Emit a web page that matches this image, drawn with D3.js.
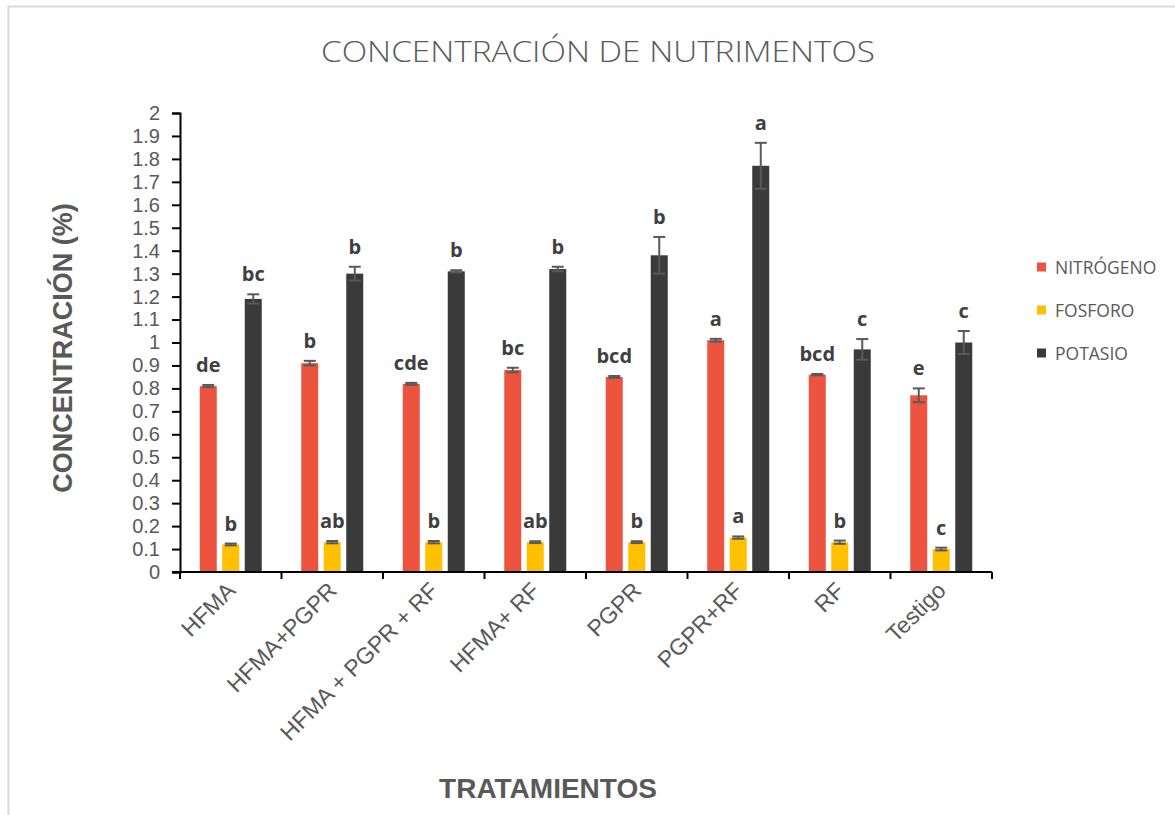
<!DOCTYPE html>
<html>
<head>
<meta charset="utf-8">
<script src="https://cdn.jsdelivr.net/npm/d3@7"></script>
<style>
  html, body { margin: 0; padding: 0; background: #fff; }
  svg { display: block; }
</style>
</head>
<body>
<svg id="chart" width="1175" height="815"></svg>
<script>
// Treatments and nutrient concentrations (%)
const categories = ["HFMA", "HFMA+PGPR", "HFMA + PGPR + RF", "HFMA+ RF", "PGPR", "PGPR+RF", "RF", "Testigo"];
const seriesNames = ["NITRÓGENO", "FOSFORO", "POTASIO"];

const nitrogeno = [0.81, 0.91, 0.82, 0.88, 0.85, 1.01, 0.86, 0.77];
const fosforo   = [0.12, 0.13, 0.13, 0.13, 0.13, 0.15, 0.13, 0.10];
const potasio   = [1.19, 1.30, 1.31, 1.32, 1.38, 1.77, 0.97, 1.00];

// Standard errors
const errNitrogeno = [0.005, 0.01, 0.004, 0.01, 0.004, 0.006, 0.003, 0.03];
const errFosforo   = [0.004, 0.005, 0.005, 0.004, 0.004, 0.005, 0.007, 0.006];
const errPotasio   = [0.02, 0.03, 0.005, 0.01, 0.08, 0.10, 0.045, 0.05];

// Significance letters
const lettersNitrogeno = ["de", "b", "cde", "bc", "bcd", "a", "bcd", "e"];
const lettersFosforo   = ["b", "ab", "b", "ab", "b", "a", "b", "c"];
const lettersPotasio   = ["bc", "b", "b", "b", "b", "a", "c", "c"];

const yTicks = d3.range(0, 21).map(i => i / 10);

const colors = ["#EC5440", "#FFC000", "#3A3A3A"];
const values = [nitrogeno, fosforo, potasio];
const errors = [errNitrogeno, errFosforo, errPotasio];
const letters = [lettersNitrogeno, lettersFosforo, lettersPotasio];

const svg = d3.select("#chart");
const textGray = "#595959";

// outer frame
svg.append("rect")
  .attr("x", 8.5).attr("y", 6.5)
  .attr("width", 1175).attr("height", 820)
  .attr("fill", "#fff").attr("stroke", "#d9d9d9").attr("stroke-width", 2);

const plot = { left: 180, right: 992, top: 113, bottom: 572 };

const x = d3.scaleBand().domain(categories).range([plot.left, plot.right]).paddingInner(0).paddingOuter(0);
const y = d3.scaleLinear().domain([0, 2]).range([plot.bottom, plot.top]);

const barW = 17, barStep = 22.5;

// bars
const rows = [];
categories.forEach((c, i) => {
  seriesNames.forEach((s, j) => {
    rows.push({ cat: c, s: j, v: values[j][i], e: errors[j][i], l: letters[j][i] });
  });
});

const bx = d => x(d.cat) + x.bandwidth() / 2 - barW / 2 + (d.s - 1) * barStep;

svg.append("g").selectAll("rect").data(rows).join("rect")
  .attr("x", bx)
  .attr("y", d => y(d.v))
  .attr("width", barW)
  .attr("height", d => y(0) - y(d.v))
  .attr("fill", d => colors[d.s]);

// error bars
const eg = svg.append("g").attr("stroke", "#595959").attr("stroke-width", 2);
rows.forEach(d => {
  const cx = bx(d) + barW / 2;
  const y1 = y(d.v + d.e), y2 = y(d.v - d.e);
  eg.append("line").attr("x1", cx).attr("x2", cx).attr("y1", y1).attr("y2", y2);
  eg.append("line").attr("x1", cx - 6).attr("x2", cx + 6).attr("y1", y1).attr("y2", y1);
  eg.append("line").attr("x1", cx - 6).attr("x2", cx + 6).attr("y1", y2).attr("y2", y2);
});

// significance letters
svg.append("g").selectAll("text").data(rows).join("text")
  .attr("x", d => bx(d) + barW / 2)
  .attr("y", d => y(d.v + d.e) - 13)
  .attr("text-anchor", "middle")
  .attr("font-family", "'Open Sans', 'Noto Sans', sans-serif")
  .attr("font-weight", "bold")
  .attr("font-size", 20)
  .attr("fill", "#404040")
  .text(d => d.l);

// y axis
const yAxis = d3.axisLeft(y).tickValues(yTicks).tickSize(8).tickPadding(12)
  .tickFormat(d => String(+d.toFixed(1)));
const gy = svg.append("g").attr("transform", `translate(${plot.left},0)`).call(yAxis);
gy.select(".domain").attr("stroke", "#000").attr("stroke-width", 2);
gy.selectAll(".tick line").attr("stroke", "#000").attr("stroke-width", 2);
gy.selectAll(".tick text").attr("fill", textGray)
  .attr("font-family", "'Liberation Sans', Arial, sans-serif").attr("font-size", 20);

// x axis with ticks at category boundaries
const gx = svg.append("g").attr("transform", `translate(0,${plot.bottom})`);
gx.append("line").attr("x1", plot.left - 8).attr("x2", plot.right).attr("y1", 0).attr("y2", 0)
  .attr("stroke", "#000").attr("stroke-width", 2);
const bounds = categories.map(c => x(c)).concat([plot.right]);
gx.selectAll("line.tk").data(bounds).join("line").attr("class", "tk")
  .attr("x1", d => d).attr("x2", d => d).attr("y1", 0).attr("y2", 7)
  .attr("stroke", "#000").attr("stroke-width", 2);
gx.selectAll("text").data(categories).join("text")
  .attr("transform", c => `translate(${x(c) + x.bandwidth() / 2 + 6},${20}) rotate(-45)`)
  .attr("text-anchor", "end")
  .attr("font-family", "'Liberation Sans', Arial, sans-serif")
  .attr("font-size", 23)
  .attr("fill", textGray)
  .text(c => c);

// title
svg.append("text")
  .attr("x", 598).attr("y", 62)
  .attr("text-anchor", "middle")
  .attr("font-family", "'Open Sans', sans-serif")
  .attr("font-weight", 300)
  .attr("font-size", 30)
  .attr("fill", textGray)
  .attr("textLength", 554).attr("lengthAdjust", "spacingAndGlyphs")
  .text("CONCENTRACIÓN DE NUTRIMENTOS");

// axis titles
svg.append("text")
  .attr("x", 548).attr("y", 798)
  .attr("text-anchor", "middle")
  .attr("font-family", "'Liberation Sans', Arial, sans-serif")
  .attr("font-weight", "bold").attr("font-size", 28)
  .attr("fill", textGray)
  .text("TRATAMIENTOS");

svg.append("text")
  .attr("transform", "translate(72,348) rotate(-90)")
  .attr("text-anchor", "middle")
  .attr("font-family", "'Liberation Sans', Arial, sans-serif")
  .attr("font-weight", "bold").attr("font-size", 27)
  .attr("fill", textGray)
  .text("CONCENTRACIÓN (%)");

// legend
const lg = svg.append("g");
seriesNames.forEach((s, j) => {
  const cy = 267 + j * 43;
  lg.append("rect").attr("x", 1037).attr("y", cy - 4.5).attr("width", 9).attr("height", 9).attr("fill", colors[j]);
  lg.append("text").attr("x", 1055).attr("y", cy + 6.5)
    .attr("font-family", "'Open Sans', sans-serif").attr("font-size", 17.5)
    .attr("fill", textGray).text(s);
});
</script>
</body>
</html>
